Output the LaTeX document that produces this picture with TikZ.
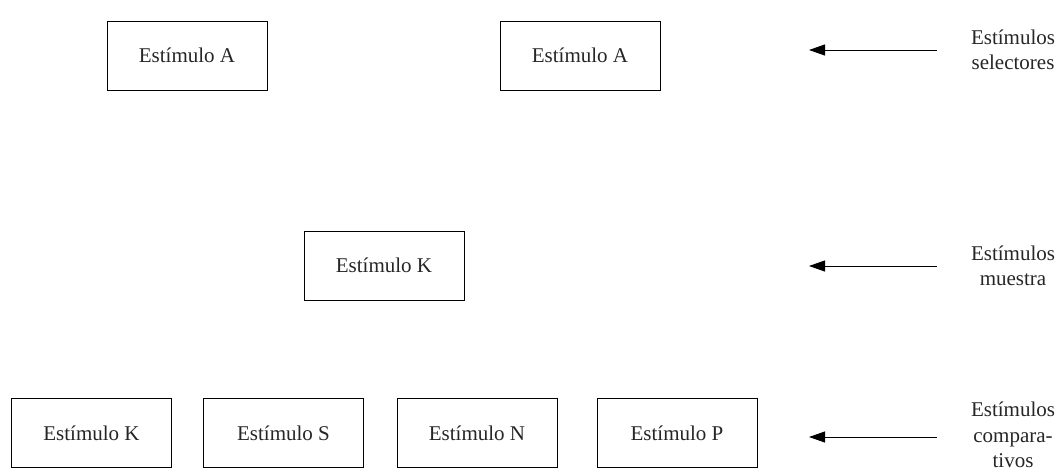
\documentclass[tikz,border=0pt]{standalone}
\usepackage{fontspec}
\setmainfont{Liberation Serif}
\usetikzlibrary{arrows.meta}
\begin{document}
\begin{tikzpicture}[x=1pt,y=-1pt,
  stim/.style={draw,line width=0.9pt,minimum width=160pt,minimum height=69pt,inner sep=0pt,font=\fontsize{21}{25}\selectfont,text=black!85},
  lab/.style={align=center,font=\fontsize{21}{25.5}\selectfont,text=black!85},
  arr/.style={line width=0.9pt,-{Triangle[length=16pt,width=11pt]}}]
\useasboundingbox (0,0) rectangle (1059,471);
\node[stim] (a1) at (187,55.5) {Estímulo A};
\node[stim] (a2) at (580,55.5) {Estímulo A};
\node[stim] (k) at (384,265.5) {Estímulo K};
\node[stim] (c1) at (91.5,433) {Estímulo K};
\node[stim] (c2) at (283.5,433) {Estímulo S};
\node[stim] (c3) at (477,433) {Estímulo N};
\node[stim] (c4) at (677,433) {Estímulo P};
\node[lab] (l1) at (1013,50) {Estímulos\\selectores};
\node[lab] (l2) at (1013,266) {Estímulos\\muestra};
\node[lab] (l3) at (1013,435) {Estímulos\\compara-\\tivos};
\coordinate (t1) at (809,50);
\coordinate (t2) at (809,266);
\coordinate (t3) at (809,437);
\coordinate (s1) at (937,50);
\coordinate (s2) at (937,266);
\coordinate (s3) at (937,437);
\draw[arr] (s1) -- (t1);
\draw[arr] (s2) -- (t2);
\draw[arr] (s3) -- (t3);
\end{tikzpicture}
\end{document}
